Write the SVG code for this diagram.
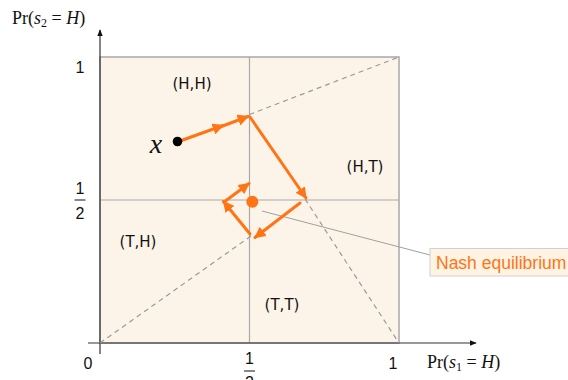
<svg xmlns="http://www.w3.org/2000/svg" width="568" height="380" viewBox="0 0 568 380">
<style>
.lbl{font-family:"DejaVu Sans",Verdana,sans-serif;font-size:15px;fill:#111;text-anchor:middle}
.tick{font-family:"Liberation Sans",Arial,sans-serif;font-size:16px;fill:#111;text-anchor:middle}
.math{font-family:"Liberation Serif","Times New Roman",serif;font-size:18px;fill:#111}
.grid{stroke:#a8a8a8;stroke-width:1.2;fill:none}
.dash{stroke:#9a9a9a;stroke-width:1.2;stroke-dasharray:5 4;fill:none}
.axis{stroke:#333;stroke-width:1.2;fill:none}
.flow{stroke:#ff7414;stroke-width:3;fill:none;stroke-linecap:round}
</style>
<defs>
<marker id="oa" viewBox="0 0 10 10" refX="9" refY="5" markerWidth="3.8" markerHeight="3.8" orient="auto" markerUnits="strokeWidth">
<path d="M0,0 L10,5 L0,10 z" fill="#ff7414"/>
</marker>
<marker id="ka" viewBox="0 0 10 10" refX="9" refY="5" markerWidth="6" markerHeight="6" orient="auto" markerUnits="strokeWidth">
<path d="M0,1 L10,5 L0,9 z" fill="#111"/>
</marker>
</defs>
<rect width="568" height="380" fill="#fff"/>
<g id="plane">
<rect x="100" y="57" width="299" height="286" fill="#fdf4e9" stroke="#a8a8a8" stroke-width="1.5"/>
<line class="grid" x1="249.5" y1="57" x2="249.5" y2="343"/>
<line class="grid" x1="100" y1="200" x2="399" y2="200"/>
</g>
<g id="axes">
<line class="axis" x1="100" y1="354" x2="100" y2="30" marker-end="url(#ka)"/>
<line class="axis" x1="88" y1="343" x2="476" y2="343" marker-end="url(#ka)"/>
<text class="math" x="12" y="24">Pr(<tspan font-style="italic">s</tspan><tspan font-size="12" dy="3">2</tspan><tspan dy="-3" xml:space="preserve"> = </tspan><tspan font-style="italic">H</tspan>)</text>
<text class="math" x="427" y="368">Pr(<tspan font-style="italic">s</tspan><tspan font-size="12" dy="3">1</tspan><tspan dy="-3" xml:space="preserve"> = </tspan><tspan font-style="italic">H</tspan>)</text>
<text class="tick" x="88" y="369">0</text>
<text class="tick" x="393" y="369">1</text>
<text class="tick" x="249.5" y="364" font-size="15">1</text>
<line x1="244" y1="371" x2="255" y2="371" stroke="#111" stroke-width="1"/>
<text class="tick" x="249.5" y="388" font-size="15">2</text>
<text class="tick" x="80" y="73">1</text>
<text class="tick" x="80" y="194" font-size="15">1</text>
<line x1="74.5" y1="200" x2="85.5" y2="200" stroke="#111" stroke-width="1"/>
<text class="tick" x="80" y="219" font-size="15">2</text>
</g>
<g id="regions">
<text id="HH" class="lbl" x="192" y="89">(H,H)</text>
<text id="HT" class="lbl" x="365" y="172">(H,T)</text>
<text id="TH" class="lbl" x="138" y="247">(T,H)</text>
<text id="TT" class="lbl" x="282" y="310">(T,T)</text>
</g>
<g id="boundaries">
<line class="dash" x1="249.5" y1="114.5" x2="399" y2="57"/>
<line class="dash" x1="305" y1="199" x2="399" y2="343"/>
<line class="dash" x1="100" y1="343" x2="251" y2="236"/>
</g>
<g id="connectors">
<line x1="262" y1="211" x2="430" y2="255" stroke="#a0a0a0" stroke-width="1"/>
<line class="flow" x1="180" y1="141" x2="223" y2="125.5" marker-end="url(#oa)"/>
<line class="flow" x1="220" y1="127" x2="248" y2="116.5" marker-end="url(#oa)"/>
<line class="flow" x1="250" y1="117" x2="306" y2="198" marker-end="url(#oa)"/>
<line class="flow" x1="300" y1="203" x2="255" y2="237.5" marker-end="url(#oa)"/>
<line class="flow" x1="250" y1="234" x2="223.5" y2="201.5" marker-end="url(#oa)"/>
<line class="flow" x1="224" y1="202" x2="249" y2="183.5" marker-end="url(#oa)"/>
</g>
<g id="start">
<circle cx="177.5" cy="141.5" r="4.8" fill="#000"/>
<text x="156" y="153" font-family="'Liberation Serif','Times New Roman',serif" font-style="italic" font-size="28" fill="#111" text-anchor="middle">x</text>
</g>
<g id="nash">
<circle cx="252.3" cy="201.7" r="6" fill="#ff7414"/>
</g>
<g id="nash-label">
<rect x="430" y="248.5" width="150" height="27.5" fill="#fff3e4" stroke="#d0d0d0" stroke-width="1"/>
<text x="436" y="269" font-family="'Liberation Sans',Arial,sans-serif" font-size="17.5" fill="#ff7414">Nash equilibrium</text>
</g>
</svg>
